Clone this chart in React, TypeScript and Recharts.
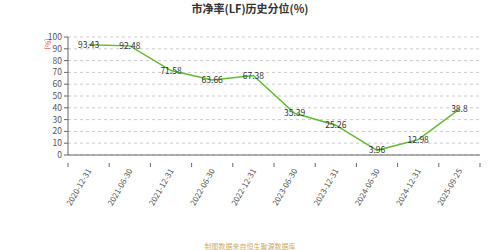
import { LineChart, Line, XAxis, YAxis, CartesianGrid, LabelList } from 'recharts'

const dates = [
  '2020-12-31',
  '2021-06-30',
  '2021-12-31',
  '2022-06-30',
  '2022-12-31',
  '2023-06-30',
  '2023-12-31',
  '2024-06-30',
  '2024-12-31',
  '2025-09-25',
]
const percentiles = [93.43, 92.48, 71.58, 63.66, 67.38, 35.39, 25.26, 3.96, 12.98, 38.8]
const yTicks = [0, 10, 20, 30, 40, 50, 60, 70, 80, 90, 100]

const chartData = dates.map((d, i) => ({ x: i + 0.5, date: d, value: percentiles[i] }))

// boundaries get a tick mark, band centres get the date label
const xTicks: number[] = []
for (let i = 0; i <= dates.length * 2; i++) xTicks.push(i / 2)

const FONT = "'Noto Sans CJK SC', sans-serif"

function DateTick(props: { x?: number; y?: number; payload?: { value: number } }) {
  const { x = 0, y = 0, payload } = props
  const v = payload?.value ?? 0
  if (Number.isInteger(v)) {
    return <line x1={x} y1={y} x2={x} y2={y + 4} stroke="#666" strokeWidth={1} />
  }
  const label = dates[Math.floor(v)] ?? ''
  return (
    <g transform={`translate(${x},${y + 6})`}>
      <text
        x={0}
        y={0}
        textAnchor="end"
        dominantBaseline="central"
        transform="rotate(-60)"
        fill="#555"
        fontSize={8}
        fontFamily={FONT}
      >
        {label}
      </text>
    </g>
  )
}

export default function App() {
  return (
    <div style={{ position: 'absolute', left: 0, top: 0, width: 500, height: 250, background: '#fff' }}>
      <div
        style={{
          position: 'absolute',
          left: 0,
          top: 0,
          width: 500,
          textAlign: 'center',
          fontFamily: FONT,
          fontWeight: 700,
          fontSize: 11,
          lineHeight: '16px',
          color: '#333',
        }}
      >
        市净率(LF)历史分位(%)
      </div>
      <div
        style={{
          position: 'absolute',
          left: 42,
          top: 39,
          fontFamily: FONT,
          fontSize: 7,
          color: '#d9534f',
          transform: 'rotate(90deg)',
          transformOrigin: 'center',
        }}
      >
        (%)
      </div>
      <LineChart
        width={500}
        height={250}
        data={chartData}
        margin={{ top: 37, right: 20, left: 28, bottom: 0 }}
      >
        <CartesianGrid stroke="#ccc" strokeDasharray="3 3" vertical={false} />
        <XAxis
          dataKey="x"
          type="number"
          domain={[0, 10]}
          ticks={xTicks}
          interval={0}
          height={95}
          tickLine={false}
          axisLine={{ stroke: '#666' }}
          tick={<DateTick />}
        />
        <YAxis
          type="number"
          domain={[0, 100]}
          ticks={yTicks}
          interval={0}
          width={40}
          tick={{ fontSize: 8.5, fill: '#555', fontFamily: FONT }}
          tickSize={4}
          tickMargin={2}
          axisLine={{ stroke: '#666' }}
          tickLine={{ stroke: '#666' }}
        />
        <Line
          dataKey="value"
          stroke="#62bb33"
          strokeWidth={1.5}
          dot={false}
          isAnimationActive={false}
        >
          <LabelList
            dataKey="value"
            position="center"
            style={{ fontSize: 8.5, fill: '#333', fontFamily: FONT }}
          />
        </Line>
      </LineChart>
      <div
        style={{
          position: 'absolute',
          left: 0,
          top: 240,
          width: 500,
          textAlign: 'center',
          fontFamily: FONT,
          fontSize: 7,
          lineHeight: '12px',
          color: '#c9ad6a',
        }}
      >
        制图数据来自恒生聚源数据库
      </div>
    </div>
  )
}
